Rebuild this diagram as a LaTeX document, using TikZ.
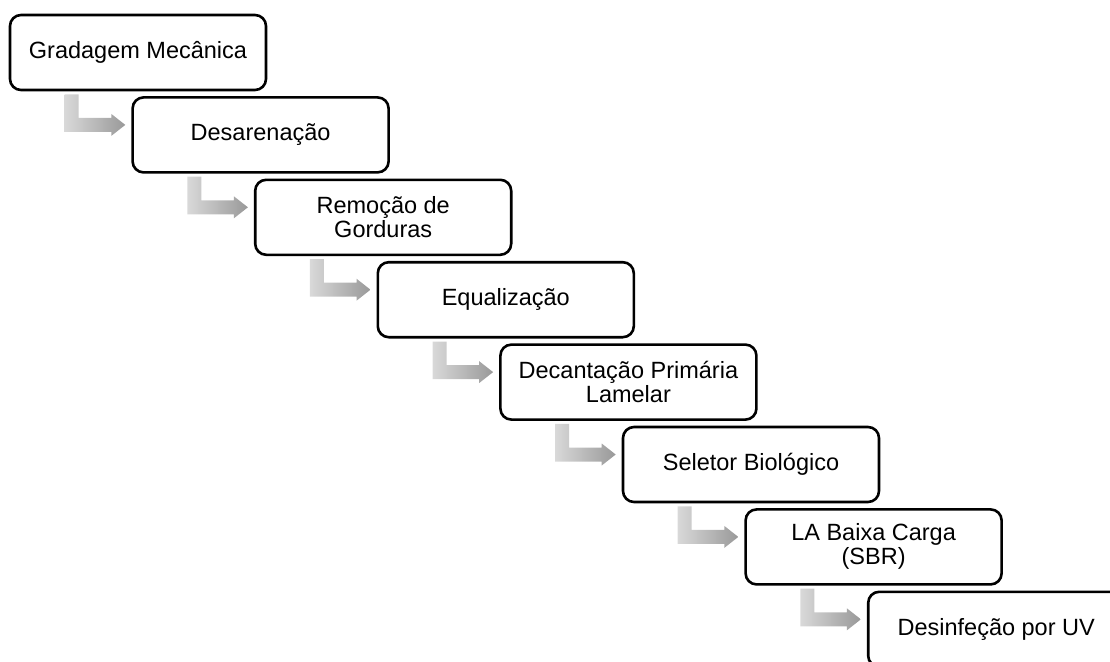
\documentclass[tikz,border=0pt]{standalone}
\usepackage{fontspec}
\setmainfont{Liberation Sans}
\usetikzlibrary{calc}
\newcommand{\bentarrow}[2]{%
  \path let \p1=(#1.south west), \p2=(#2.west) in
    [flowarrow] (\x1+56pt,\y1-3pt) -- (\x1+70pt,\y1-3pt) -- (\x1+70pt,\y2+17pt)
    -- (\x2-20pt,\y2+17pt) -- (\x2-20pt,\y2+21pt) -- (\x2-6pt,\y2+10pt)
    -- (\x2-20pt,\y2-1pt) -- (\x2-20pt,\y2+3pt) -- (\x1+56pt,\y2+3pt) -- cycle;}
\begin{document}
\begin{tikzpicture}[x=1pt,y=-1pt,
  stepbox/.style={draw=black, line width=2.6pt, rounded corners=11pt, fill=white,
    minimum width=256pt, minimum height=75pt, align=center, inner sep=0pt,
    font=\fontsize{23.5}{24}\selectfont},
  flowarrow/.style={left color=black!15, right color=black!40, draw=none}]
\useasboundingbox (0,0) rectangle (1110,661);
\clip (0,0) rectangle (1110,661);
\node[stepbox] (s1) at (138.0,52.5) {Gradagem Mecânica};
\node[stepbox] (s2) at (260.6,134.9) {Desarenação};
\node[stepbox] (s3) at (383.2,217.3) {Remoção de\\Gorduras};
\node[stepbox] (s4) at (505.8,299.7) {Equalização};
\node[stepbox] (s5) at (628.4,382.1) {Decantação Primária\\Lamelar};
\node[stepbox] (s6) at (751.0,464.5) {Seletor Biológico};
\node[stepbox] (s7) at (873.6,546.9) {LA Baixa Carga\\(SBR)};
\node[stepbox] (s8) at (996.2,629.3) {Desinfeção por UV};
\bentarrow{s1}{s2}
\bentarrow{s2}{s3}
\bentarrow{s3}{s4}
\bentarrow{s4}{s5}
\bentarrow{s5}{s6}
\bentarrow{s6}{s7}
\bentarrow{s7}{s8}
\end{tikzpicture}
\end{document}
